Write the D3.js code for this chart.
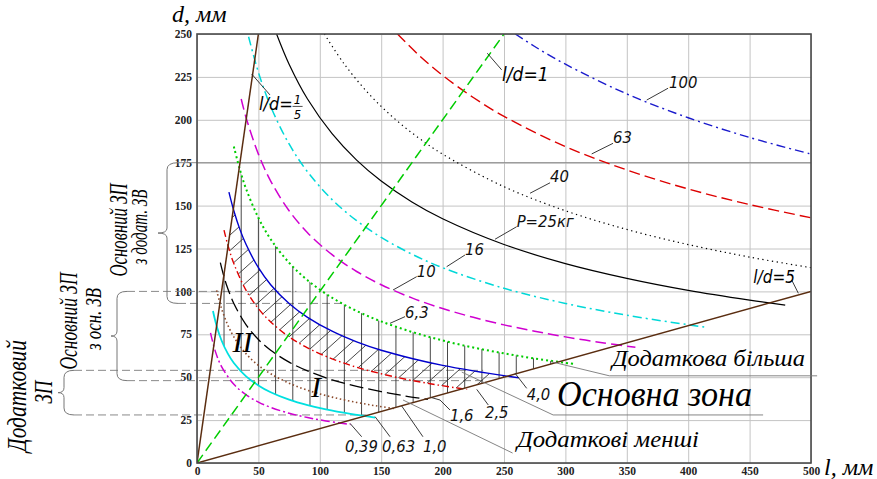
<!DOCTYPE html>
<html><head><meta charset="utf-8">
<script src="https://cdn.jsdelivr.net/npm/d3@7"></script>
<style>body{margin:0;background:#fff}svg{display:block}</style>
</head><body><svg id="c" width="877" height="479"></svg>
<script>
// ---------- DATA ----------
const lTicks = [0,50,100,150,200,250,300,350,400,450,500];
const dTicks = [0,25,50,75,100,125,150,175,200,225,250];

// mass isolines P, kg : [l, d] points in mm
const m0_39 = [[11,75.8],[15,64.9],[20,56.2],[30,45.9],[40,39.7],[50,35.5],[60,32.4],[75,29.0],[90,26.5],[105,24.5],[125,22.5]];
const m0_63 = [[13,88.6],[16,79.9],[20,71.4],[25,63.9],[30,58.3],[40,50.5],[50,45.2],[60,41.2],[75,36.9],[90,33.7],[105,31.2],[125,28.6],[145,26.5]];
const m1_0  = [[16,100.6],[20,90],[25,80.5],[30,73.5],[40,63.6],[50,56.9],[60,52],[75,46.5],[90,42.4],[110,38.4],[130,35.3],[145,33.4],[161,31.7]];
const m1_6  = [[19,116.8],[22,108.5],[25,101.8],[30,93],[40,80.5],[50,72],[60,65.7],[75,58.8],[90,53.7],[110,48.5],[130,44.7],[150,41.6],[170,39],[188,37.1]];
const m2_5  = [[22,135.7],[25,127.3],[30,116.2],[40,100.6],[50,90],[60,82.2],[75,73.5],[90,67.1],[110,60.7],[130,55.8],[150,52],[170,48.8],[190,46.2],[210,43.9],[220,42.9]];
const m4_0  = [[26,157.9],[30,147],[35,136],[40,127.3],[50,113.8],[60,103.9],[75,93],[90,84.9],[110,76.8],[130,70.6],[150,65.7],[175,60.9],[200,56.9],[225,53.7],[250,50.9],[262,49.7]];
const m6_3  = [[30,184.4],[35,170.8],[40,159.7],[50,142.9],[60,130.4],[75,116.7],[90,106.5],[110,96.3],[130,88.6],[150,82.5],[175,76.4],[200,71.4],[225,67.3],[250,63.9],[275,60.9],[308,57.6]];
const m10   = [[36,212.1],[40,201.2],[50,180],[60,164.3],[75,147],[90,134.2],[110,121.4],[130,111.6],[150,103.9],[175,96.2],[200,90],[225,84.9],[250,80.5],[275,76.8],[300,73.5],[330,70.1],[357,67.4]];
const m16   = [[42,248.4],[50,227.7],[60,207.8],[75,185.9],[90,169.7],[110,153.5],[130,141.2],[150,131.5],[175,121.7],[200,113.8],[250,101.8],[300,93],[350,86.1],[415,79]];
const m25   = [[64.8,250],[75,232.4],[90,212.1],[110,191.9],[130,176.5],[150,164.3],[175,152.1],[200,142.3],[250,127.3],[300,116.2],[350,107.6],[400,100.6],[450,94.9],[479,92]];
const m40   = [[103.7,250],[120,232.4],[140,215.1],[160,201.2],[180,189.7],[200,180],[250,161],[300,147],[350,136.1],[400,127.3],[450,120],[500,113.8]];
const m63   = [[163.3,250],[180,238.1],[200,225.9],[225,213],[250,202],[300,184.4],[350,170.8],[400,159.7],[450,150.6],[500,142.9]];
const m100  = [[259.2,250],[275,242.7],[300,232.4],[350,215.1],[400,201.2],[450,189.7],[500,180]];
const massLabels = ["0,39","0,63","1,0","1,6","2,5","4,0","6,3","10","16","P=25кг","40","63","100"];

// ratio lines l/d
const ratio1_5 = [[0,0],[50,250]];
const ratio1   = [[0,0],[250,250]];
const ratio5   = [[0,0],[500,100]];

// zone boundaries, d (mm)
const zoneLevels = [175, 93, 100, 48, 54, 28];

// ---------- STYLES ----------
const massSeries = [m0_39,m0_63,m1_0,m1_6,m2_5,m4_0,m6_3,m10,m16,m25,m40,m63,m100];
const massColor = ["#d000d0","#00e0e0","#8b4a2b","#000000","#e00000","#0000cc","#00cc00","#d000d0","#00d8d8","#000000","#000000","#dd0000","#1a1acc"];
const massDash  = ["9,3,2,3",null,"1.5,2.6","14,5","7,3,1.5,3",null,"2,3","11,5","9,4,2,4",null,"1.3,3.5","11,5","9,4,2,4"];
const massWidth = [1.5,1.8,1.6,1.3,1.4,1.4,2,1.5,1.5,1.2,1.2,1.4,1.4];

// label leader lines (data coords) and text anchors
const labelLeaders = [
  [[124.6,23.1],[134.1,15.3]], [[145,27],[157.2,15.3]], [[166.7,33.2],[184,15.3]],
  [[191.1,38.1],[197.9,36.7],[206,30.9]], [[227.8,42.9],[237.2,33.8]], [[259,52.3],[268.5,43.5]],
  [[157.2,81.4],[169.4,85.3]], [[159.6,100.8],[178.9,108.6]], [[203.3,114.4],[218.2,121.2]],
  [[242.7,130.4],[260.3,137.7]], [[271.2,157.2],[287.5,163.3]], [[321.4,180.1],[338.8,186.3]],
  [[366.2,211.5],[383.6,218.4]]
];
const labelPos = [[120.5,6.4],[150.7,6.4],[184,6.4],[206,24.5],[234.5,26.2],[268.5,36.7],
  [169.4,84.5],[179,108.3],[218.2,121.2],[260.3,137.4],[287.5,163.6],[338.8,186.5],[384.4,218.5]];

const svg = d3.select("#c");
const x = d3.scaleLinear().domain([0,500]).range([197,811]);
const y = d3.scaleLinear().domain([0,250]).range([463,34]);
const X0 = x(0), X1 = x(500), Y0 = y(0), Y1 = y(250);
const serif = '"Liberation Serif","Times New Roman",serif';
const narrow = '"Liberation Sans Narrow","DejaVu Sans Condensed","Liberation Sans",sans-serif';

const defs = svg.append("defs");
defs.append("clipPath").attr("id","plot").append("rect")
  .attr("x",X0).attr("y",Y1).attr("width",X1-X0).attr("height",Y0-Y1);

// ---------- GRID ----------
svg.append("g").attr("transform",`translate(0,${Y0})`)
  .call(d3.axisBottom(x).tickValues(lTicks).tickSize(-(Y0-Y1)).tickFormat(""))
  .call(g=>g.select(".domain").remove())
  .call(g=>g.selectAll("line").attr("stroke","#c4c4c4"));
svg.append("g").attr("transform",`translate(${X0},0)`)
  .call(d3.axisLeft(y).tickValues(dTicks).tickSize(-(X1-X0)).tickFormat(""))
  .call(g=>g.select(".domain").remove())
  .call(g=>g.selectAll("line").attr("stroke","#c4c4c4"));

// ---------- AXES ----------
svg.append("g").attr("transform",`translate(0,${Y0})`)
  .call(d3.axisBottom(x).tickValues(lTicks).tickSize(0).tickPadding(4))
  .call(g=>g.select(".domain").remove())
  .call(g=>g.selectAll("text").attr("font-family",serif).attr("font-weight","bold").attr("font-size",11.5).attr("fill","#222"));
svg.append("g").attr("transform",`translate(${X0},0)`)
  .call(d3.axisLeft(y).tickValues(dTicks).tickSize(0).tickPadding(5))
  .call(g=>g.select(".domain").remove())
  .call(g=>g.selectAll("text").attr("font-family",serif).attr("font-weight","bold").attr("font-size",11.5).attr("fill","#222"));

const line = d3.line().x(p=>x(p[0])).y(p=>y(p[1])).curve(d3.curveCatmullRom.alpha(0.5));
const straight = d3.line().x(p=>x(p[0])).y(p=>y(p[1]));

// ---------- ZONE GUIDE LINES ----------
const guide = svg.append("g").attr("fill","none");
const bx = {top:178, mid:127, bot:74};
guide.append("line").attr("x1",bx.top).attr("x2",X1).attr("y1",y(zoneLevels[0])).attr("y2",y(zoneLevels[0]))
  .attr("stroke","#8a8a8a").attr("stroke-width",1);
const dashed = [[bx.top, zoneLevels[1], 118],[bx.mid, zoneLevels[2], 81],[bx.mid, zoneLevels[3], 236],
                [bx.bot, zoneLevels[4], 233],[bx.bot, zoneLevels[5], 138]];
dashed.forEach(([sx, lev, lEnd])=>{
  guide.append("line").attr("x1",sx).attr("x2",x(lEnd)).attr("y1",y(lev)).attr("y2",y(lev))
    .attr("stroke","#8a8a8a").attr("stroke-width",1).attr("stroke-dasharray","8,4");
});

// ---------- HATCHING ----------
function regionPath(upper, lower){
  const a = line(upper), b = line(lower.slice().reverse());
  return a + "L" + b.slice(1) + "Z";
}
defs.append("clipPath").attr("id","wedge").append("path")
  .attr("d", straight([ratio5[0], ratio1_5[1], [500,250], ratio5[1]]) + "Z");
defs.append("clipPath").attr("id","vzone").append("path").attr("d", regionPath(m6_3, m0_63));
defs.append("clipPath").attr("id","dzone").append("path").attr("d", regionPath(m4_0, m2_5));

const hw = svg.append("g").attr("clip-path","url(#wedge)");
const hv = hw.append("g").attr("clip-path","url(#vzone)");
d3.range(22, 292, 14).forEach(l=>{
  hv.append("line").attr("x1",x(l)).attr("x2",x(l)).attr("y1",Y0).attr("y2",Y1)
    .attr("stroke","#333").attr("stroke-width",0.9);
});
const hd = hw.append("g").attr("clip-path","url(#dzone)");
d3.range(380, 840, 15.5).forEach(c=>{
  hd.append("line").attr("x1",150).attr("y1",c-0.9*150).attr("x2",620).attr("y2",c-0.9*620)
    .attr("stroke","#333").attr("stroke-width",0.9);
});

// ---------- CURVES ----------
const cg = svg.append("g").attr("clip-path","url(#plot)").attr("fill","none");
massSeries.forEach((s,i)=>{
  cg.append("path").attr("d", line(s)).attr("stroke", massColor[i])
    .attr("stroke-width", massWidth[i]).attr("stroke-dasharray", massDash[i]);
});
cg.append("path").attr("d", straight(ratio1)).attr("stroke","#00cc00").attr("stroke-width",1.5).attr("stroke-dasharray","10,5");
cg.append("path").attr("d", straight(ratio1_5)).attr("stroke","#5a2d10").attr("stroke-width",1.5);
cg.append("path").attr("d", straight(ratio5)).attr("stroke","#5a2d10").attr("stroke-width",1.5);

// frame
svg.append("rect").attr("x",X0).attr("y",Y1).attr("width",X1-X0).attr("height",Y0-Y1)
  .attr("fill","none").attr("stroke","#4a4a4a").attr("stroke-width",1.6);

// ---------- LABELS ----------
const lg = svg.append("g");
labelLeaders.forEach((pts,i)=>{
  lg.append("path").attr("d", straight(pts)).attr("fill","none").attr("stroke","#222").attr("stroke-width",0.9);
  lg.append("text").attr("x", x(labelPos[i][0])).attr("y", y(labelPos[i][1]))
    .attr("font-family",narrow).attr("font-style","italic").attr("font-size",16.5).attr("fill","#111")
    .text(massLabels[i]);
});
// ratio labels
lg.append("path").attr("d", straight([[44.5,226.7],[59.4,214.5]])).attr("fill","none").attr("stroke","#222").attr("stroke-width",0.9);
lg.append("text").attr("x",x(50.5)).attr("y",y(205.7)).attr("font-family",narrow).attr("font-style","italic").attr("font-size",18).text("l/d=");
lg.append("text").attr("x",x(81.8)).attr("y",y(209.2)).attr("text-anchor","middle").attr("font-family",narrow).attr("font-style","italic").attr("font-size",13).text("1");
lg.append("text").attr("x",x(81.8)).attr("y",y(200.6)).attr("text-anchor","middle").attr("font-family",narrow).attr("font-style","italic").attr("font-size",13).text("5");
lg.append("path").attr("d", straight([[77.8,207.8],[86,207.8]])).attr("stroke","#222").attr("stroke-width",0.8);

lg.append("path").attr("d", straight([[236.4,238.8],[248.1,229.1]])).attr("fill","none").attr("stroke","#222").attr("stroke-width",0.9);
lg.append("text").attr("x",x(248.4)).attr("y",y(222.6)).attr("font-family",narrow).attr("font-style","italic").attr("font-size",19).text("l/d=1");
lg.append("path").attr("d", straight([[489.7,98.9],[484.3,106.6]])).attr("fill","none").attr("stroke","#222").attr("stroke-width",0.9);
lg.append("text").attr("x",x(487)).attr("y",y(104.9)).attr("text-anchor","end").attr("font-family",narrow).attr("font-style","italic").attr("font-size",17).text("l/d=5");

// region numerals
lg.append("text").attr("x",x(37)).attr("y",y(64.7)).attr("text-anchor","middle").attr("font-family",serif).attr("font-style","italic").attr("font-size",30).text("II");
lg.append("text").attr("x",x(97)).attr("y",y(38.5)).attr("text-anchor","middle").attr("font-family",serif).attr("font-style","italic").attr("font-size",30).text("I");

// zone callouts
const callout = (pts)=>lg.append("path").attr("d", straight(pts)).attr("fill","none").attr("stroke","#777").attr("stroke-width",0.9);
callout([[288.5,59],[335.8,50.8],[505,50.8]]);
callout([[215.6,53],[290,28],[461,28]]);
callout([[167.8,36.7],[257,5.8]]);
lg.append("text").attr("x",612).attr("y",y(56.5)).attr("font-family",serif).attr("font-style","italic")
  .attr("font-size",23).attr("textLength",193).attr("lengthAdjust","spacingAndGlyphs").text("Додаткова більша");
lg.append("text").attr("x",557).attr("y",y(33.5)).attr("font-family",serif).attr("font-style","italic")
  .attr("font-size",36).attr("textLength",195).attr("lengthAdjust","spacingAndGlyphs").text("Основна зона");
lg.append("text").attr("x",517).attr("y",y(9.3)).attr("font-family",serif).attr("font-style","italic")
  .attr("font-size",23).attr("textLength",182).attr("lengthAdjust","spacingAndGlyphs").text("Додаткові менші");

// axis titles
svg.append("text").attr("x",172).attr("y",22).attr("font-family",serif).attr("font-style","italic").attr("font-size",24).text("d, мм");
svg.append("text").attr("x",824).attr("y",475).attr("font-family",serif).attr("font-style","italic").attr("font-size",24).text("l, мм");

// ---------- BRACES ----------
function brace(xv, yTop, yBot, tipX, endX){
  const r = 7, ym = (yTop+yBot)/2;
  return `M${endX},${yTop} Q${xv},${yTop} ${xv},${yTop+r} L${xv},${ym-5} Q${xv},${ym} ${tipX},${ym} `+
         `Q${xv},${ym} ${xv},${ym+5} L${xv},${yBot-r} Q${xv},${yBot} ${endX},${yBot}`;
}
const bg = svg.append("g").attr("fill","none").attr("stroke","#777").attr("stroke-width",1);
bg.append("path").attr("d", brace(167, y(zoneLevels[0]), y(zoneLevels[1]), 158, bx.top));
bg.append("path").attr("d", brace(117, y(zoneLevels[2]), y(zoneLevels[3]), 111, bx.mid));
bg.append("path").attr("d", brace(64, y(zoneLevels[4]), y(zoneLevels[5]), 58, bx.bot));

function vtext(bx, cy, txt, size, len){
  svg.append("text").attr("transform",`translate(${bx},${cy}) rotate(-90)`).attr("text-anchor","middle")
    .attr("font-family",serif).attr("font-style","italic").attr("font-size",size)
    .attr("textLength",len).attr("lengthAdjust","spacingAndGlyphs").text(txt);
}
vtext(127, 230, "Основний ЗП", 25, 93);
vtext(147, 227, "з додат. ЗВ", 24, 75);
vtext(77, 321, "Основний ЗП", 25, 97);
vtext(101, 319, "з осн. ЗВ", 23, 62);
vtext(26, 396, "Додатковий", 27, 112);
vtext(52, 392, "ЗП", 26, 23);
</script></body></html>
